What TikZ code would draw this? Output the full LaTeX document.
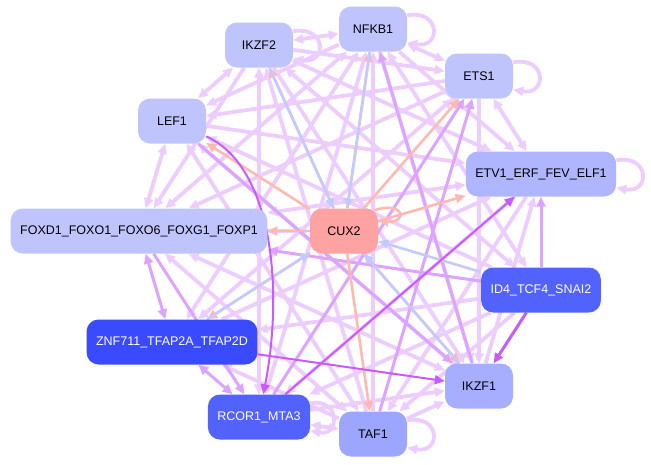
\documentclass[tikz,border=0pt]{standalone}
\usepackage{fontspec}
\setmainfont{Liberation Sans}
\usepackage{xcolor}
\usetikzlibrary{arrows.meta,backgrounds}
\definecolor{tfpale}{HTML}{C0C4FD}
\definecolor{tfmid}{HTML}{B0B5FF}
\definecolor{tfmidb}{HTML}{A8AEFF}
\definecolor{tfmidc}{HTML}{9CA6FF}
\definecolor{tfdark}{HTML}{5262FF}
\definecolor{tfdeep}{HTML}{3A4AFF}
\definecolor{tfred}{HTML}{FFA2A2}
\definecolor{lilac}{HTML}{EDCCFF}
\definecolor{violet}{HTML}{DCA4FF}
\definecolor{grape}{HTML}{C85AFF}
\definecolor{salmon}{HTML}{FFB9B2}
\definecolor{skyline}{HTML}{C2CAFF}

\begin{document}
\begin{tikzpicture}[
        x=1pt, y=-1pt,
        tf/.style={
            rectangle,
            fill=tfpale,
            text=black,
            align=center,
            rounded corners=12pt,
            minimum height=45pt,
            minimum width=68pt,
            inner xsep=9.5pt,
            font=\fontsize{12.5}{14}\selectfont
        },
        tip/.style={-{Triangle[length=10pt,width=9pt]}},
        bitip/.style={{Triangle[length=10pt,width=9pt]}-{Triangle[length=10pt,width=9pt]}},
        edgeA/.style={tip, line width=3.8pt, color=lilac},
        edgeB/.style={tip, line width=3pt, color=violet},
        edgeC/.style={tip, line width=2pt, color=grape},
        edgeP/.style={tip, line width=2.6pt, color=salmon},
        edgeQ/.style={tip, line width=2.6pt, color=skyline},
        both/.style={bitip}
    ]
        \useasboundingbox (0,0) rectangle (651,464);

        % Ring of factors
        \node[tf] (nfkb) at (373, 29) {NFKB1};
        \node[tf] (ikzftwo) at (259, 45) {IKZF2};
        \node[tf] (ets) at (479, 76) {ETS1};
        \node[tf] (lef) at (172, 121) {LEF1};
        \node[tf, fill=tfmid] (etv) at (541, 174) {ETV1\_ERF\_FEV\_ELF1};
        \node[tf] (fox) at (139, 231) {FOXD1\_FOXO1\_FOXO6\_FOXG1\_FOXP1};
        \node[tf, fill=tfdark, text=white] (idf) at (541, 290) {ID4\_TCF4\_SNAI2};
        \node[tf, fill=tfdeep, text=white] (znf) at (172, 342) {ZNF711\_TFAP2A\_TFAP2D};
        \node[tf, fill=tfmidb] (ikzfone) at (479, 386) {IKZF1};
        \node[tf, fill=tfdark, text=white] (rcor) at (259, 417) {RCOR1\_MTA3};
        \node[tf, fill=tfmidc] (taf) at (373, 434) {TAF1};

        % Hub
        \node[tf, fill=tfred] (cux) at (344, 231) {CUX2};

        \begin{scope}[on background layer]
        % Neighbours on the ring
        \draw[edgeA, both] (nfkb) -- (ikzftwo);
        \draw[edgeA, both] (nfkb) -- (ets);
        \draw[edgeA, both] (ikzftwo) -- (lef);
        \draw[edgeA, both] (lef) -- (fox);
        \draw[edgeA, both] (ets) -- (etv);
        \draw[edgeA, both] (rcor) -- (taf);
        \draw[edgeA] (taf) -- (ikzfone);

        % Light cross links
        \draw[edgeA] (nfkb) -- (lef);
        \draw[edgeA, both] (nfkb) -- (fox);
        \draw[edgeA, both] (nfkb) -- (znf);
        \draw[edgeA, both] (nfkb) -- (rcor);
        \draw[edgeA] (nfkb) -- (ikzfone);
        \draw[edgeA] (nfkb) -- (etv);
        \draw[edgeA, both] (nfkb) -- (idf);
        \draw[edgeA] (taf) -- (nfkb);
        \draw[edgeA] (ikzftwo) -- (ets);
        \draw[edgeA] (ikzftwo) -- (etv);
        \draw[edgeA, both] (ikzftwo) -- (idf);
        \draw[edgeA] (ikzftwo) -- (ikzfone);
        \draw[edgeA, both] (ikzftwo) -- (rcor);
        \draw[edgeA] (ikzftwo) -- (fox);
        \draw[edgeA] (taf) -- (ikzftwo);
        \draw[edgeA] (ets) -- (lef);
        \draw[edgeA] (ets) -- (fox);
        \draw[edgeA, both] (ets) -- (znf);
        \draw[edgeA] (ets) -- (ikzfone);
        \draw[edgeA] (lef) -- (etv);
        \draw[edgeA] (idf) -- (lef);
        \draw[edgeA, both] (taf) -- (lef);
        \draw[edgeA] (ikzfone) -- (lef);
        \draw[edgeA, both] (fox) -- (etv);
        \draw[edgeA] (etv) -- (rcor);
        \draw[edgeA] (etv) -- (taf);
        \draw[edgeA] (znf) -- (etv);
        \draw[edgeA] (ikzfone) -- (etv);
        \draw[edgeA, both] (taf) -- (fox);
        \draw[edgeA, both] (ikzfone) -- (fox);
        \draw[edgeA] (idf) -- (taf);
        \draw[edgeA] (idf) -- (rcor);
        \draw[edgeA] (idf) -- (znf);
        \draw[edgeA] (taf) -- (znf);
        \draw[edgeA] (rcor) -- (ikzfone);
        \draw[edgeA] (fox) -- (cux);

        % Stronger links
        \draw[edgeB, both] (fox) -- (znf);
        \draw[edgeB, both] (znf) -- (rcor);
        \draw[edgeB] (idf) -- (etv);
        \draw[edgeB] (idf) -- (fox);
        \draw[edgeB] (rcor) -- (ets);
        \draw[edgeB] (taf) -- (ets);
        \draw[edgeB] (fox) -- (rcor);
        \draw[edgeB] (lef) -- (ikzfone);
        \draw[edgeB] (ikzfone) -- (nfkb);

        % Links of CUX2
        \draw[edgeP] (cux) -- (ikzftwo);
        \draw[edgeP] (cux) -- (nfkb);
        \draw[edgeP] (cux) -- (ets);
        \draw[edgeP] (cux) -- (lef);
        \draw[edgeP] (cux) -- (fox);
        \draw[edgeP] (cux) -- (etv);
        \draw[edgeP] (cux) -- (znf);
        \draw[edgeP] (cux) -- (taf);
        \draw[edgeP] (cux) -- (ikzfone);
        \draw[edgeQ] (ikzftwo) -- (cux);
        \draw[edgeQ] (nfkb) -- (cux);
        \draw[edgeQ] (idf) -- (cux);
        \draw[edgeQ] (ikzfone) -- (cux);
        \draw[edgeQ] (znf) -- (cux);

        % Darkest links
        \draw[edgeC] (znf) -- (ikzfone);
        \draw[edgeC] (rcor) -- (etv);
        \draw[edgeC] (lef) .. controls +(100,45) and +(25,-130) .. (rcor);
        \draw[edgeC, line width=3pt] (idf) -- (ikzfone);

        % Self loops
        \draw[edgeA] ([yshift=-9]nfkb.north east) .. controls +(34,-6) and +(34,6) .. ([yshift=9]nfkb.south east);
        \draw[edgeA] ([yshift=-9]ikzftwo.north east) .. controls +(34,-6) and +(34,6) .. ([yshift=9]ikzftwo.south east);
        \draw[edgeA] ([yshift=-9]ets.north east) .. controls +(34,-6) and +(34,6) .. ([yshift=9]ets.south east);
        \draw[edgeA] ([yshift=-9]etv.north east) .. controls +(34,-6) and +(34,6) .. ([yshift=9]etv.south east);
        \draw[edgeA] ([yshift=-9]taf.north east) .. controls +(34,-6) and +(34,6) .. ([yshift=9]taf.south east);
        \draw[edgeA] ([yshift=-9]rcor.north east) .. controls +(30,-6) and +(30,6) .. ([yshift=9]rcor.south east);
        \draw[edgeP] ([xshift=-4,yshift=-2]cux.north east) .. controls +(30,-10) and +(30,2) .. ([yshift=10]cux.east);
        \end{scope}
    \end{tikzpicture}
\end{document}
